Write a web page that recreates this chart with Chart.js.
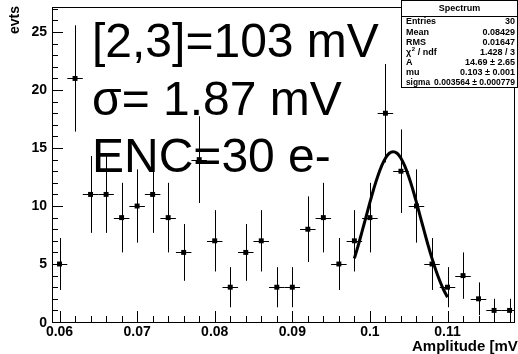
<!DOCTYPE html>
<html>
<head>
<meta charset="utf-8">
<script src="https://cdn.jsdelivr.net/npm/chart.js@4/dist/chart.umd.min.js"></script>
<style>
html,body{margin:0;padding:0;background:#fff;}
canvas{display:block;}
</style>
</head>
<body>
<canvas id="c" width="518" height="354"></canvas>
<script>
// ---- data ----
const binCenters = [0.060,0.062,0.064,0.066,0.068,0.070,0.072,0.074,0.076,0.078,
                    0.080,0.082,0.084,0.086,0.088,0.090,0.092,0.094,0.096,0.098,
                    0.100,0.102,0.104,0.106,0.108,0.110,0.112,0.114,0.116,0.118];
const counts     = [5,21,11,11,9,10,11,9,6,14,
                    7,3,6,7,3,3,8,9,5,7,
                    9,18,13,10,5,3,4,2,1,1];
const binHalfWidth = 0.001;
const fitX = [0.0980,0.0985,0.0990,0.0995,0.1000,0.1005,0.1010,0.1015,0.1020,0.1025,
              0.1030,0.1035,0.1040,0.1045,0.1050,0.1055,0.1060,0.1065,0.1070,0.1075,
              0.1080,0.1085,0.1090,0.1095,0.1100];
const fitY = [5.49,6.62,7.83,9.07,10.31,11.49,12.55,13.44,14.12,14.55,
              14.69,14.55,14.12,13.44,12.55,11.49,10.31,9.07,7.83,6.62,
              5.49,4.47,3.56,2.78,2.13];
const xTickValues = [0.06,0.07,0.08,0.09,0.10,0.11];
const xTickLabels = ['0.06','0.07','0.08','0.09','0.1','0.11'];
const yTickValues = [0,5,10,15,20,25];
const yTickLabels = ['0','5','10','15','20','25'];
const annotationLines = ['[2,3]=103 mV','\u03c3= 1.87 mV','ENC=30 e-'];
const statsTitle = 'Spectrum';
const statsNames  = ['Entries','Mean','RMS','CHI2','A','mu','sigma'];
const statsValues = ['30','0.08429','0.01647','1.428 / 3','14.69 \u00b1 2.65','0.103 \u00b1 0.001','0.003564 \u00b1 0.000779'];
const xTitle = 'Amplitude [mV]';
const yTitle = 'evts';

const X_MIN = 0.05903, X_MAX = 0.11857, Y_MIN = 0, Y_MAX = 27.16;
const FONT = '"Liberation Sans", Arial, Helvetica, sans-serif';

const rootPlugin = {
  id: 'rootStyle',
  beforeDatasetsDraw(chart) {
    const ctx = chart.ctx, xs = chart.scales.x, ys = chart.scales.y, a = chart.chartArea;
    ctx.save();
    ctx.beginPath();
    ctx.rect(a.left, a.top, a.right - a.left, a.bottom - a.top);
    ctx.clip();
    ctx.strokeStyle = '#000';
    ctx.lineWidth = 1;
    binCenters.forEach((x, i) => {
      const n = counts[i];
      const err = Math.sqrt(n);
      const px = Math.round(xs.getPixelForValue(x)) + 0.5;
      const py = Math.round(ys.getPixelForValue(n)) + 0.5;
      ctx.beginPath();
      ctx.moveTo(px, ys.getPixelForValue(n + err));
      ctx.lineTo(px, ys.getPixelForValue(Math.max(0, n - err)));
      ctx.moveTo(xs.getPixelForValue(x - binHalfWidth), py);
      ctx.lineTo(xs.getPixelForValue(x + binHalfWidth), py);
      ctx.stroke();
    });
    ctx.restore();
  },
  afterDatasetsDraw(chart) {
    const ctx = chart.ctx, xs = chart.scales.x, ys = chart.scales.y, a = chart.chartArea;
    ctx.save();
    // frame
    ctx.strokeStyle = '#000';
    ctx.lineWidth = 1;
    ctx.strokeRect(Math.round(a.left) + 0.5, Math.round(a.top) + 0.5,
                   Math.round(a.right - a.left), Math.round(a.bottom - a.top));
    // x ticks (inside)
    ctx.beginPath();
    for (let k = 0; k <= 29; k++) {
      const v = 0.06 + k * 0.002;
      const px = Math.round(xs.getPixelForValue(v)) + 0.5;
      const len = (k % 5 === 0) ? 11 : 6;
      ctx.moveTo(px, a.bottom);
      ctx.lineTo(px, a.bottom - len);
    }
    // y ticks (inside)
    for (let v = 0; v <= 27; v++) {
      const py = Math.round(ys.getPixelForValue(v)) + 0.5;
      const len = (v % 5 === 0) ? 11 : 6;
      ctx.moveTo(a.left, py);
      ctx.lineTo(a.left + len, py);
    }
    ctx.stroke();
    // tick labels
    ctx.fillStyle = '#000';
    ctx.font = 'bold 14px ' + FONT;
    ctx.textAlign = 'center';
    ctx.textBaseline = 'middle';
    xTickValues.forEach((v, i) => {
      ctx.fillText(xTickLabels[i], xs.getPixelForValue(v), a.bottom + 10.5);
    });
    ctx.textAlign = 'right';
    yTickValues.forEach((v, i) => {
      ctx.fillText(yTickLabels[i], a.left - 5, ys.getPixelForValue(v) + (v === 0 ? 1 : 0));
    });
    // axis titles
    ctx.font = 'bold 15px ' + FONT;
    ctx.textAlign = 'left';
    ctx.fillText(xTitle, 412, 347);
    ctx.save();
    ctx.translate(15, 20);
    ctx.rotate(-Math.PI / 2);
    ctx.textAlign = 'center';
    ctx.font = 'bold 14px ' + FONT;
    ctx.fillText(yTitle, 0, 0);
    ctx.restore();
    // big annotation text
    ctx.font = '48px ' + FONT;
    ctx.textAlign = 'left';
    ctx.textBaseline = 'alphabetic';
    const baselines = [57, 115, 172];
    annotationLines.forEach((t, i) => ctx.fillText(t, 92, baselines[i]));
    // stats box
    const bx = 401, by = 0, bw = 117, bh = 87;
    ctx.fillStyle = '#fff';
    ctx.fillRect(bx, by, bw, bh);
    ctx.strokeStyle = '#000';
    ctx.lineWidth = 1;
    ctx.strokeRect(bx + 0.5, by + 0.5, bw - 1, bh);
    ctx.beginPath();
    ctx.moveTo(bx, 16.5); ctx.lineTo(bx + bw, 16.5);
    ctx.stroke();
    ctx.fillStyle = '#000';
    ctx.font = 'bold 9px ' + FONT;
    ctx.textAlign = 'center';
    ctx.textBaseline = 'middle';
    ctx.fillText(statsTitle, bx + bw / 2, 8.5);
    statsNames.forEach((nm, i) => {
      const y = 22 + i * 10.05;
      ctx.textAlign = 'left';
      if (nm === 'CHI2') {
        ctx.fillText('\u03c7', 406, y);
        const w = ctx.measureText('\u03c7').width;
        ctx.font = 'bold 6px ' + FONT;
        ctx.fillText('2', 406 + w + 0.5, y - 3);
        ctx.font = 'bold 9px ' + FONT;
        ctx.fillText(' / ndf', 406 + w + 4, y);
      } else {
        ctx.fillText(nm, 406, y, nm === 'sigma' ? 24 : 30);
      }
      ctx.textAlign = 'right';
      ctx.fillText(statsValues[i], 515, y, 81);
    });
    ctx.restore();
  }
};

new Chart(document.getElementById('c'), {
  type: 'scatter',
  data: {
    datasets: [
      {
        label: 'fit',
        type: 'line',
        data: fitX.map((x, i) => ({x: x, y: fitY[i]})),
        borderColor: '#000',
        borderWidth: 3,
        pointRadius: 0,
        tension: 0.4,
        fill: false,
        order: 0
      },
      {
        label: 'Spectrum',
        data: binCenters.map((x, i) => ({x: x, y: counts[i]})),
        pointStyle: 'rect',
        pointRadius: 3.5,
        backgroundColor: '#000',
        borderColor: '#000',
        borderWidth: 0,
        order: 1
      }
    ]
  },
  options: {
    responsive: false,
    devicePixelRatio: 1,
    animation: false,
    events: [],
    layout: {padding: {top: 7, right: 1, left: 0, bottom: 0}},
    plugins: {legend: {display: false}, tooltip: {enabled: false}},
    scales: {
      x: {
        type: 'linear', min: X_MIN, max: X_MAX,
        grid: {display: false}, border: {display: false},
        ticks: {display: false},
        afterFit(s) { s.height = 32; }
      },
      y: {
        type: 'linear', min: Y_MIN, max: Y_MAX,
        grid: {display: false}, border: {display: false},
        ticks: {display: false},
        afterFit(s) { s.width = 52; }
      }
    }
  },
  plugins: [rootPlugin]
});
</script>
</body>
</html>
